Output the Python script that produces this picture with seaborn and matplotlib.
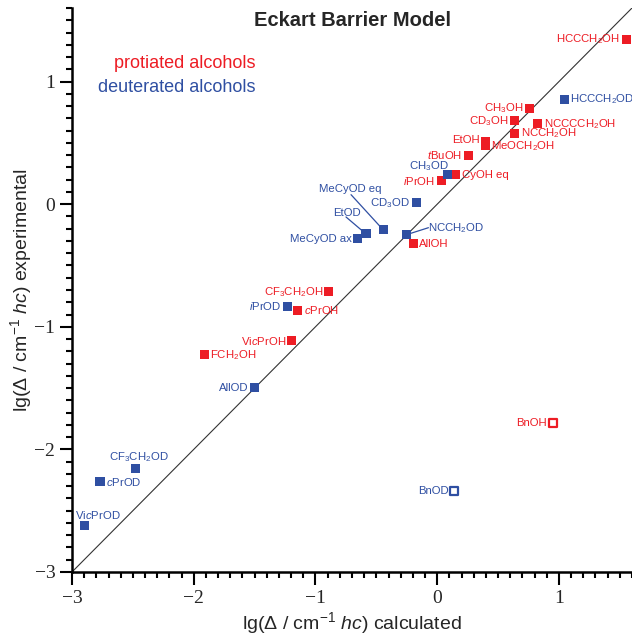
import matplotlib
matplotlib.use("Agg")
import matplotlib.pyplot as plt
from matplotlib.ticker import MultipleLocator, FuncFormatter
import seaborn as sns
import pandas as pd

# ---------------- data ----------------
prot_names = ["HCCCH$_2$OH", "CH$_3$OH", "CD$_3$OH", "NCCCCH$_2$OH", "NCCH$_2$OH", "EtOH",
              "MeOCH$_2$OH", "$\\mathit{t}$BuOH", "$\\mathit{i}$PrOH", "CyOH eq", "AllOH",
              "CF$_3$CH$_2$OH", "$\\mathit{c}$PrOH", "Vi$\\mathit{c}$PrOH", "FCH$_2$OH"]
prot_calc = [1.556, 0.758, 0.635, 0.824, 0.635, 0.396, 0.396, 0.254, 0.035, 0.152, -0.198,
             -0.889, -1.147, -1.193, -1.914]
prot_exp = [1.343, 0.780, 0.680, 0.657, 0.576, 0.510, 0.478, 0.398, 0.192, 0.241, -0.322,
            -0.714, -0.864, -1.114, -1.229]

deut_names = ["HCCCH$_2$OD", "CH$_3$OD", "CD$_3$OD", "MeCyOD eq", "EtOD", "MeCyOD ax",
              "NCCH$_2$OD", "$\\mathit{i}$PrOD", "AllOD", "CF$_3$CH$_2$OD", "$\\mathit{c}$PrOD",
              "Vi$\\mathit{c}$PrOD"]
deut_calc = [1.046, 0.084, -0.174, -0.445, -0.585, -0.654, -0.253, -1.229, -1.503, -2.479,
             -2.770, -2.899]
deut_exp = [0.853, 0.241, 0.010, -0.208, -0.243, -0.282, -0.249, -0.834, -1.498, -2.159,
            -2.263, -2.619]

# outliers (open symbols)
out_names = ["BnOH", "BnOD"]
out_calc = [0.950, 0.141]
out_exp = [-1.786, -2.336]
out_group = ["protiated", "deuterated"]

RED = "#ed1c24"
BLUE = "#2f4fa2"

# label placement: (dx px, dy px, ha)
prot_pos = [(-7, 0, "right"), (-6, 0, "right"), (-6, 0, "right"), (6, 0, "left"),
            (6, 0, "left"), (-6, 2, "right"), (6, -1, "left"), (-6, 0, "right"),
            (-6, 0, "right"), (6, 0, "left"), (6, 0, "left"), (-6, 0, "right"),
            (6, 0, "left"), (-6, 0, "right"), (6, 0, "left")]
deut_pos = [(5, 0, "left"), (-19, 9, "center"), (-6, 0, "right"), (-64, 41, "left"),
            (-19, 21, "center"), (-6, 0, "right"), (22, 7, "left"), (-6, 0, "right"),
            (-6, 0, "right"), (3, 12, "center"), (6, 0, "left"), (14, 10, "center")]
leaders = {"MeCyOD eq": (-32, 35), "EtOD": (-20, 17), "NCCH$_2$OD": (22, 7)}

# ---------------- figure ----------------
sns.set_style("ticks")
plt.rcParams["font.family"] = ["Liberation Sans", "DejaVu Sans"]
plt.rcParams["mathtext.fontset"] = "custom"
plt.rcParams["mathtext.rm"] = "Liberation Sans"
plt.rcParams["mathtext.it"] = "Liberation Sans:italic"
plt.rcParams["mathtext.bf"] = "Liberation Sans:bold"

fig = plt.figure(figsize=(6.32, 6.35), dpi=100)
ax = fig.add_axes([72 / 632, 63 / 635, 560 / 632, 564 / 635])

df = pd.concat([
    pd.DataFrame({"calc": prot_calc, "exp": prot_exp, "group": "protiated"}),
    pd.DataFrame({"calc": deut_calc, "exp": deut_exp, "group": "deuterated"}),
])
pal = {"protiated": RED, "deuterated": BLUE}
sns.scatterplot(data=df, x="calc", y="exp", hue="group", palette=pal, marker="s",
                s=42, linewidth=0, legend=False, ax=ax, zorder=3)
dfo = pd.DataFrame({"calc": out_calc, "exp": out_exp, "group": out_group})
for g in ["protiated", "deuterated"]:
    sub = dfo[dfo.group == g]
    sns.scatterplot(data=sub, x="calc", y="exp", marker="s", s=30, facecolor="white",
                    edgecolor=pal[g], linewidth=1.6, legend=False, ax=ax, zorder=3)

ax.axline((0, 0), slope=1, color="#333333", lw=0.8, zorder=1)

lab_fs = 8.2
for names, xs, ys, pos, col in [(prot_names, prot_calc, prot_exp, prot_pos, RED),
                                (deut_names, deut_calc, deut_exp, deut_pos, BLUE)]:
    for n, x, y, (dx, dy, ha) in zip(names, xs, ys, pos):
        ax.annotate(n, xy=(x, y), xytext=(dx, dy), textcoords="offset pixels",
                    ha=ha, va="center", color=col, fontsize=lab_fs, zorder=4)
        if n in leaders:
            lx, ly = leaders[n]
            ax.annotate("", xy=(x, y), xytext=(lx, ly), textcoords="offset pixels",
                        arrowprops=dict(arrowstyle="-", color=col, lw=0.9,
                                        shrinkA=0, shrinkB=0), zorder=2)
for n, x, y, g in zip(out_names, out_calc, out_exp, out_group):
    ax.annotate(n, xy=(x, y), xytext=(-6, 0), textcoords="offset pixels",
                ha="right", va="center", color=pal[g], fontsize=lab_fs)

ax.set_xlim(-3, 1.6)
ax.set_ylim(-3, 1.6)
ax.xaxis.set_major_locator(MultipleLocator(1))
ax.yaxis.set_major_locator(MultipleLocator(1))
ax.xaxis.set_minor_locator(MultipleLocator(0.1))
ax.yaxis.set_minor_locator(MultipleLocator(0.1))
fmt = FuncFormatter(lambda v, p: f"{int(round(v))}".replace("-", "\u2212"))
ax.xaxis.set_major_formatter(fmt)
ax.yaxis.set_major_formatter(fmt)
for s in ["top", "right"]:
    ax.spines[s].set_visible(False)
for s in ["left", "bottom"]:
    ax.spines[s].set_linewidth(1.8)
    ax.spines[s].set_color("black")
ax.tick_params(which="major", length=9, width=1.5, direction="out", color="black")
ax.tick_params(which="minor", length=4.5, width=1.5, direction="out", color="black")
ax.tick_params(axis="x", which="major", pad=4)
ax.tick_params(axis="y", which="major", pad=3)
for t in ax.get_xticklabels() + ax.get_yticklabels():
    t.set_fontfamily("Liberation Serif")
    t.set_fontsize(14)

ax.set_xlabel("lg(\u0394 / cm$^{\u22121}$ $hc$) calculated", fontsize=14, labelpad=2)
ax.set_ylabel("lg(\u0394 / cm$^{\u22121}$ $hc$) experimental", fontsize=14)
ax.yaxis.set_label_coords(-0.068, 0.5)

fig.text(352 / 632, 1 - 20 / 635, "Eckart Barrier Model", ha="center", va="center",
         fontsize=14.5, fontweight="bold")
fig.text(256 / 632, 1 - 68 / 635, "protiated alcohols", ha="right", va="baseline",
         fontsize=13, color=RED)
fig.text(256 / 632, 1 - 92 / 635, "deuterated alcohols", ha="right", va="baseline",
         fontsize=13, color=BLUE)

fig.savefig("out.png", dpi=100)
